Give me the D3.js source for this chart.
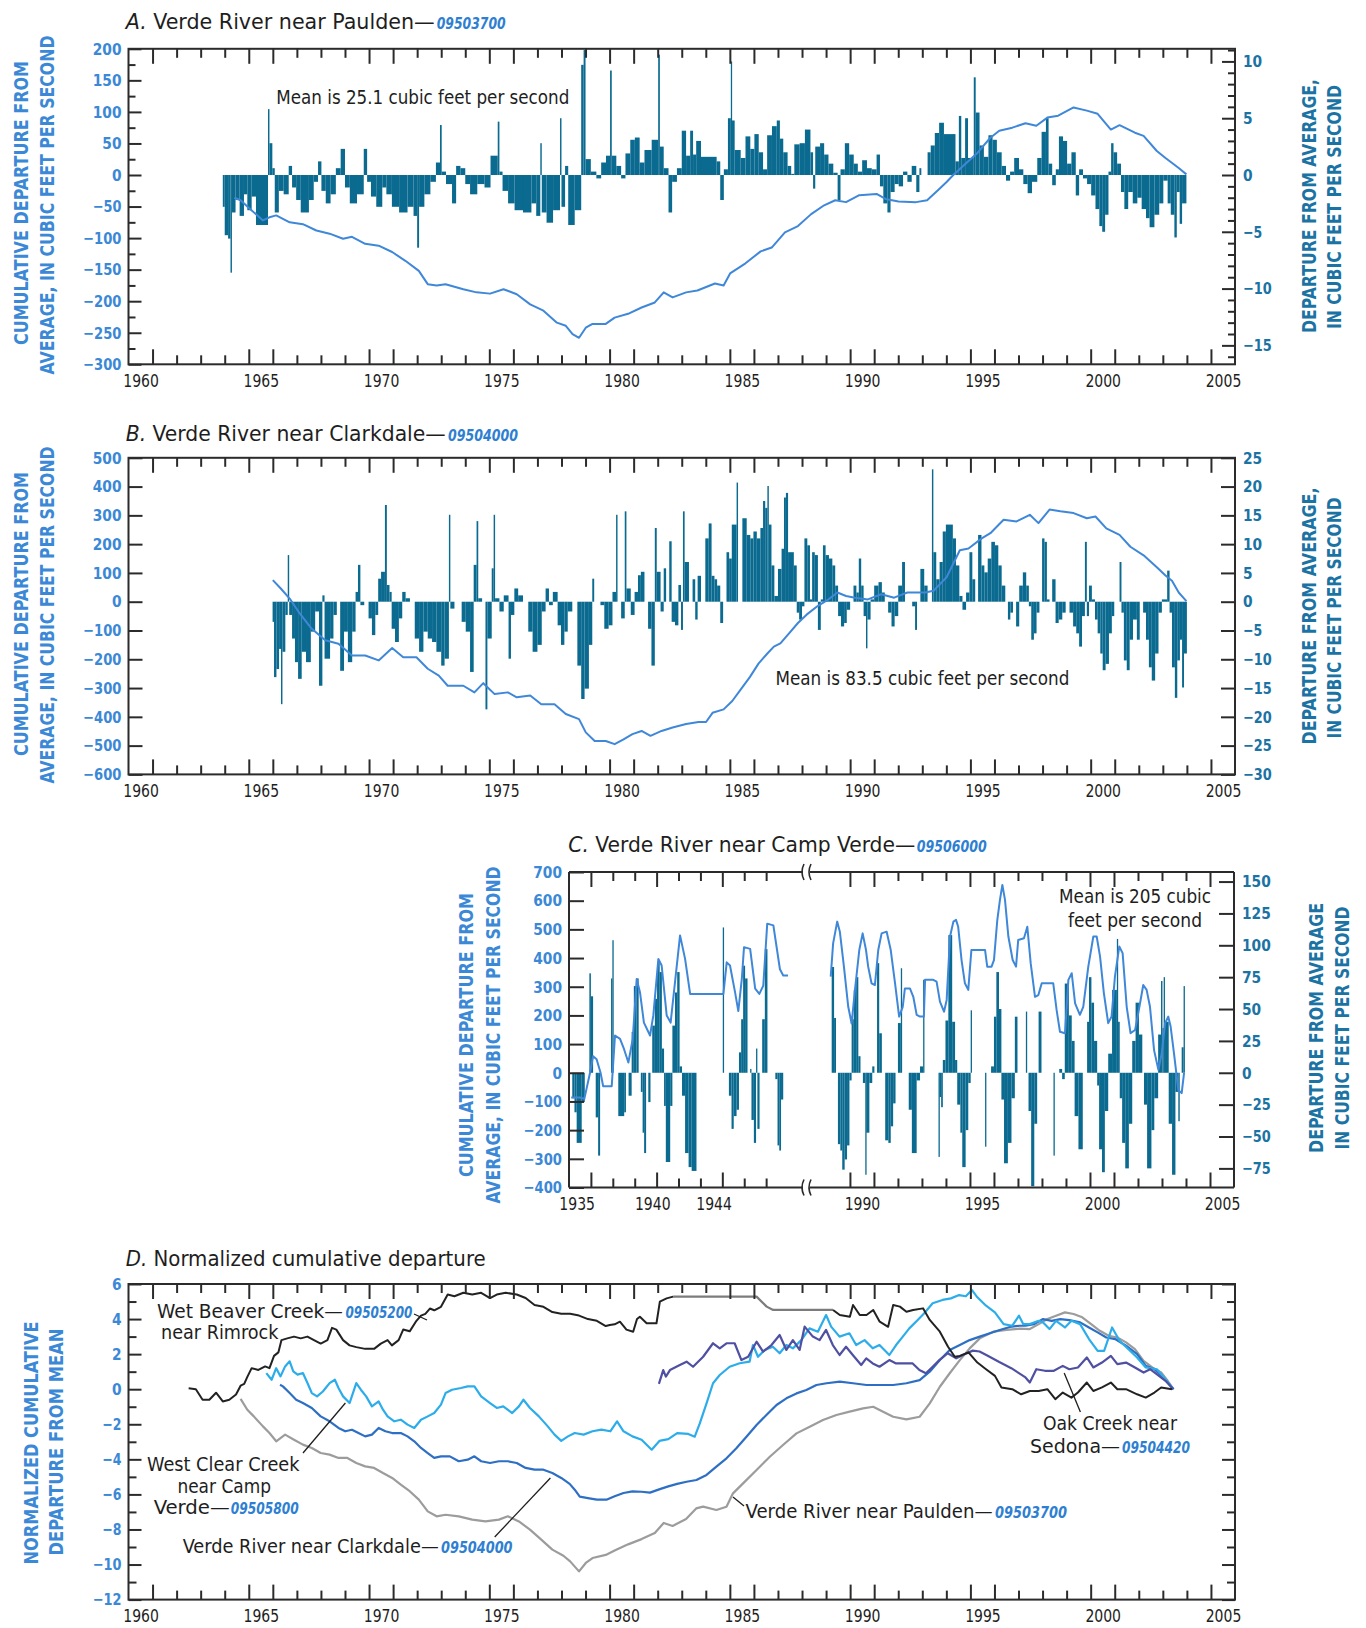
<!DOCTYPE html>
<meta charset="utf-8">
<style>
body { margin: 0; background: #fff; }
text { font-family: "Liberation Sans Narrow", "DejaVu Sans Condensed", "Arial Narrow", sans-serif; }
.ptitle { font-size: 21px; fill: #1e1e1e; }
.stn { font-size: 16px; font-style: italic; font-weight: bold; }
.tkl { font-size: 16.5px; font-weight: bold; }
.tkx { font-size: 18px; }
.atitle { font-size: 19px; font-weight: bold; }
.note { font-size: 20px; fill: #1e1e1e; }
.note2 { font-size: 19px; fill: #1e1e1e; }
</style>
<svg width="1366" height="1628"></svg>
<script src="https://d3js.org/d3.v7.min.js"></script>
<script>
var svg = d3.select("svg");

var frameColor = "#2b2b2b";
var barColor = "#0b6a8f";
var cumColor = "#3f87d8";
var leftColor = "#3b88d6";
var rightColor = "#1b73a4";
var numColor = "#2e7fd2";
var textColor = "#1e1e1e";

// ---------- data ----------
var yearLabels = [1960, 1965, 1970, 1975, 1980, 1985, 1990, 1995, 2000, 2005];
var tickYears = d3.range(1961, 2006);

// A. Verde River near Paulden: departure (cfs), each bar runs to the next entry's year
var barsA = [[1963.92,-2.8],[1964.00,-5.3],[1964.14,-5.6],[1964.24,-8.6],[1964.30,-3.3],[1964.45,-2.2],[1964.62,-3.6],[1964.80,-1.7],[1964.94,-3.1],[1965.12,-1.9],[1965.30,-4.4],[1965.80,5.8],[1965.86,2.8],[1965.98,0.6],[1966.08,-3.3],[1966.25,-1.4],[1966.45,-1.7],[1966.66,0.8],[1966.80,-1.1],[1966.97,-2.2],[1967.16,-3.3],[1967.50,-2.2],[1967.70,-0.6],[1967.88,1.2],[1968.02,-1.4],[1968.20,-2.5],[1968.40,-1.7],[1968.62,0.6],[1968.82,2.3],[1969.00,-1.1],[1969.20,-2.5],[1969.50,-1.7],[1969.78,2.3],[1969.92,-0.6],[1970.08,-1.9],[1970.30,-2.8],[1970.55,-1.1],[1970.72,-1.7],[1970.95,-2.8],[1971.25,-3.3],[1971.60,-2.8],[1971.85,-3.6],[1972.00,-6.4],[1972.08,-2.8],[1972.30,-1.7],[1972.55,-0.6],[1972.78,1.1],[1972.95,4.4],[1973.02,0.3],[1973.20,-0.8],[1973.45,-2.5],[1973.62,0.8],[1973.80,0.6],[1974.00,-0.8],[1974.20,-1.7],[1974.50,-0.8],[1974.80,-1.1],[1975.05,1.7],[1975.35,4.7],[1975.42,0.3],[1975.55,-1.4],[1975.78,-2.5],[1976.05,-3.1],[1976.40,-3.3],[1976.75,-2.5],[1976.95,-3.6],[1977.12,2.8],[1977.18,-3.3],[1977.38,-4.2],[1977.65,-3.1],[1977.94,5.0],[1978.00,-2.8],[1978.15,0.8],[1978.28,-4.4],[1978.55,-3.1],[1978.82,9.7],[1978.92,11.0],[1979.00,1.4],[1979.22,0.3],[1979.45,-0.3],[1979.65,1.1],[1979.85,1.7],[1980.02,9.2],[1980.09,1.7],[1980.28,0.8],[1980.48,-0.3],[1980.66,1.9],[1980.86,3.1],[1981.05,3.3],[1981.25,1.1],[1981.45,2.2],[1981.75,3.1],[1982.02,10.6],[1982.09,2.5],[1982.25,0.6],[1982.45,-3.3],[1982.60,-0.6],[1982.80,0.6],[1983.00,3.9],[1983.18,1.7],[1983.35,3.9],[1983.47,1.8],[1983.60,3.0],[1983.80,1.6],[1984.45,1.2],[1984.60,-2.2],[1984.75,0.5],[1984.92,5.0],[1985.04,10.0],[1985.09,4.8],[1985.20,2.2],[1985.45,1.5],[1985.65,3.4],[1985.85,2.3],[1986.02,3.6],[1986.20,2.0],[1986.38,0.5],[1986.55,3.5],[1986.75,4.3],[1986.95,4.8],[1987.08,3.2],[1987.22,2.0],[1987.40,0.8],[1987.55,0.1],[1987.68,2.7],[1987.90,2.8],[1988.12,4.0],[1988.35,2.0],[1988.46,-1.2],[1988.55,2.5],[1988.75,2.8],[1988.92,1.8],[1989.10,1.0],[1989.30,0.2],[1989.48,-2.2],[1989.60,0.5],[1989.78,2.8],[1989.96,1.8],[1990.15,1.0],[1990.32,0.3],[1990.50,1.3],[1990.70,0.6],[1990.90,0.5],[1991.10,1.8],[1991.24,-1.0],[1991.38,-2.5],[1991.55,-3.3],[1991.68,-1.5],[1991.85,-0.8],[1992.02,-1.0],[1992.20,0.3],[1992.38,-0.6],[1992.56,0.8],[1992.75,-1.5],[1992.88,0.6],[1992.96,0],[1993.22,2.0],[1993.35,2.6],[1993.52,3.7],[1993.70,4.6],[1993.90,3.6],[1994.38,1.2],[1994.52,5.2],[1994.62,1.5],[1994.78,5.0],[1994.90,1.5],[1995.14,8.6],[1995.22,5.5],[1995.38,2.6],[1995.56,1.6],[1995.75,3.5],[1995.92,3.1],[1996.10,2.0],[1996.30,0.8],[1996.48,-0.5],[1996.65,0.3],[1996.82,1.5],[1997.02,0.5],[1997.20,-0.8],[1997.38,-1.6],[1997.56,-0.6],[1997.78,1.5],[1997.96,3.8],[1998.14,5.0],[1998.25,1.0],[1998.40,-0.9],[1998.55,0.5],[1998.68,3.4],[1998.85,3.0],[1999.02,1.0],[1999.20,2.0],[1999.38,-1.8],[1999.52,0.5],[1999.68,-0.3],[1999.85,-0.8],[2000.02,-1.8],[2000.20,-3.0],[2000.36,-4.5],[2000.48,-5.0],[2000.60,-3.5],[2000.74,0.3],[2000.85,2.8],[2000.95,2.0],[2001.10,1.0],[2001.26,-1.5],[2001.40,-3.0],[2001.56,-1.5],[2001.75,-2.5],[2001.94,-2.0],[2002.12,-3.0],[2002.30,-3.8],[2002.45,-4.6],[2002.65,-3.5],[2002.85,-2.5],[2003.02,-0.5],[2003.20,-2.5],[2003.33,-3.5],[2003.48,-5.5],[2003.58,-1.5],[2003.70,-4.3],[2003.80,-2.5],[2003.98,0]];
var cumA = [[1964.4,-36],[1964.66,-40],[1965.03,-53],[1965.59,-72],[1965.86,-67],[1966.14,-64],[1966.70,-75],[1967.25,-78],[1967.81,-88],[1968.36,-93],[1968.92,-101],[1969.29,-98],[1969.84,-109],[1970.40,-112],[1970.96,-122],[1971.51,-136],[1972.07,-152],[1972.44,-173],[1972.81,-175],[1973.18,-173],[1973.92,-181],[1974.47,-186],[1975.03,-188],[1975.59,-181],[1976.14,-189],[1976.70,-205],[1977.25,-215],[1977.81,-234],[1978.18,-239],[1978.46,-252],[1978.73,-258],[1979.01,-242],[1979.29,-236],[1979.84,-236],[1980.21,-226],[1980.77,-220],[1981.33,-210],[1981.88,-202],[1982.25,-186],[1982.62,-194],[1983.18,-186],[1983.65,-183],[1984.38,-172],[1984.74,-175],[1985.01,-156],[1985.65,-140],[1986.28,-121],[1986.74,-115],[1987.29,-91],[1987.83,-81],[1988.38,-62],[1988.92,-48],[1989.38,-40],[1989.83,-43],[1990.38,-32],[1991.10,-30],[1991.47,-38],[1992.01,-42],[1992.74,-43],[1993.20,-40],[1993.65,-24],[1994.01,-11],[1994.29,0],[1994.74,16],[1995.29,35],[1995.83,59],[1996.20,70],[1996.74,75],[1997.29,82],[1997.74,78],[1998.20,91],[1998.65,94],[1999.29,107],[1999.84,102],[2000.29,97],[2000.84,72],[2001.20,79],[2001.84,67],[2002.20,62],[2002.75,38],[2003.11,27],[2003.66,11],[2003.98,1]];

// B. Verde River near Clarkdale
var barsB = [[1965.99,-3.5],[1966.05,-13.1],[1966.15,-11.7],[1966.26,-8.2],[1966.34,-17.8],[1966.40,-8.7],[1966.52,-2.3],[1966.62,8.1],[1966.68,-2.3],[1966.80,-6.4],[1966.92,-10.5],[1967.05,-13.4],[1967.20,-8.7],[1967.38,-10.5],[1967.58,-5.2],[1967.76,-1.7],[1967.92,-14.6],[1968.06,1.1],[1968.15,-9.9],[1968.38,-6.4],[1968.52,-2.3],[1968.66,0],[1968.80,-12.0],[1968.96,-5.2],[1969.12,-10.5],[1969.30,-5.2],[1969.44,1.7],[1969.54,6.4],[1969.64,-0.6],[1969.80,0],[1969.98,-2.9],[1970.12,-5.8],[1970.26,-2.3],[1970.38,4.0],[1970.50,5.2],[1970.66,16.8],[1970.74,2.9],[1970.85,1.7],[1970.94,-4.7],[1971.08,-7.0],[1971.24,-2.9],[1971.38,1.7],[1971.52,0.6],[1971.70,0],[1971.90,-6.4],[1972.08,-8.7],[1972.26,-5.2],[1972.44,-6.4],[1972.62,-7.0],[1972.80,-8.7],[1973.00,-11.1],[1973.14,-9.9],[1973.32,15.1],[1973.38,-1.2],[1973.55,0],[1973.85,-3.5],[1974.02,-5.2],[1974.20,-12.2],[1974.35,6.4],[1974.47,14.0],[1974.54,0.6],[1974.70,0],[1974.84,-18.7],[1974.92,-6.4],[1975.10,5.8],[1975.18,15.1],[1975.24,0.6],[1975.42,-1.7],[1975.60,1.1],[1975.80,-9.9],[1975.90,-2.3],[1976.04,2.3],[1976.20,1.1],[1976.40,0],[1976.62,-5.2],[1976.80,-8.7],[1977.00,-7.5],[1977.18,-1.7],[1977.34,2.3],[1977.48,-0.6],[1977.64,1.7],[1977.84,-4.1],[1977.98,-7.5],[1978.12,-5.2],[1978.26,-1.7],[1978.45,0],[1978.66,-11.1],[1978.82,-16.9],[1978.96,-15.1],[1979.14,-7.5],[1979.28,4.0],[1979.36,0],[1979.62,-0.6],[1979.78,-4.7],[1979.96,-4.1],[1980.12,1.7],[1980.27,15.1],[1980.33,0],[1980.48,-2.9],[1980.63,15.7],[1980.70,2.3],[1980.88,-2.3],[1981.04,1.7],[1981.18,4.6],[1981.30,5.2],[1981.45,0],[1981.60,-4.7],[1981.74,-11.1],[1981.88,12.8],[1981.96,5.2],[1982.12,-1.7],[1982.25,5.8],[1982.35,0],[1982.48,10.5],[1982.58,-3.5],[1982.72,-4.1],[1982.86,2.9],[1982.97,-4.9],[1983.05,15.7],[1983.12,6.9],[1983.30,0],[1983.45,3.9],[1983.56,-3.1],[1983.66,4.5],[1983.80,0],[1983.98,11.0],[1984.12,13.6],[1984.24,4.5],[1984.36,3.9],[1984.47,2.8],[1984.60,-3.7],[1984.72,0],[1984.86,8.6],[1984.97,7.5],[1985.08,13.4],[1985.28,20.7],[1985.34,0],[1985.52,14.5],[1985.70,11.6],[1985.85,11.0],[1985.98,12.2],[1986.12,11.0],[1986.27,12.8],[1986.38,17.5],[1986.47,16.3],[1986.56,20.1],[1986.62,13.4],[1986.73,6.3],[1986.85,1.0],[1987.00,5.7],[1987.15,9.2],[1987.25,18.1],[1987.33,18.9],[1987.42,8.6],[1987.66,6.3],[1987.78,-1.9],[1987.88,-3.1],[1988.00,-0.8],[1988.10,11.0],[1988.22,9.8],[1988.33,0.4],[1988.42,8.6],[1988.53,8.1],[1988.66,-4.9],[1988.78,0.4],[1988.87,9.8],[1988.98,8.1],[1989.12,7.5],[1989.26,6.3],[1989.38,2.8],[1989.50,-2.5],[1989.62,-4.3],[1989.75,-3.7],[1989.86,-1.4],[1990.00,0],[1990.14,2.8],[1990.26,1.6],[1990.36,7.5],[1990.46,2.8],[1990.56,-2.5],[1990.66,-8.1],[1990.72,-3.1],[1990.85,0.4],[1991.00,2.8],[1991.18,3.4],[1991.32,1.6],[1991.44,0],[1991.58,-1.9],[1991.72,-4.3],[1991.85,-2.5],[1992.00,2.8],[1992.16,6.9],[1992.28,0],[1992.58,-0.8],[1992.70,-4.9],[1992.78,0],[1992.92,5.7],[1993.08,2.8],[1993.22,0],[1993.40,23.0],[1993.46,8.6],[1993.58,3.9],[1993.72,6.9],[1993.85,12.2],[1993.98,13.4],[1994.27,11.0],[1994.40,6.3],[1994.54,1.0],[1994.67,-1.4],[1994.82,1.6],[1994.96,8.6],[1995.08,3.9],[1995.20,0],[1995.32,11.6],[1995.46,6.3],[1995.58,5.1],[1995.72,7.5],[1995.87,10.4],[1996.02,9.8],[1996.16,6.3],[1996.30,2.8],[1996.45,0],[1996.56,-3.1],[1996.66,-1.9],[1996.77,0],[1996.90,-4.3],[1997.03,2.8],[1997.18,5.1],[1997.32,2.8],[1997.43,-0.8],[1997.53,-6.6],[1997.64,-5.5],[1997.75,-1.9],[1997.87,0],[1997.98,11.0],[1998.08,10.4],[1998.18,0.4],[1998.29,0],[1998.40,3.9],[1998.54,-3.7],[1998.67,-3.1],[1998.82,-1.9],[1998.96,0],[1999.12,-1.9],[1999.27,-4.3],[1999.40,-5.5],[1999.52,-7.8],[1999.64,-2.5],[1999.76,10.4],[1999.84,-2.5],[1999.93,2.8],[2000.05,0.4],[2000.18,-3.1],[2000.29,-5.5],[2000.40,-9.0],[2000.50,-11.9],[2000.62,-10.8],[2000.76,-5.5],[2000.88,-2.5],[2000.98,0],[2001.20,6.9],[2001.28,-1.9],[2001.38,-10.2],[2001.50,-11.9],[2001.62,-6.6],[2001.76,-3.1],[2001.92,-6.6],[2002.04,0],[2002.18,-1.9],[2002.30,-6.6],[2002.42,-11.4],[2002.54,-13.7],[2002.68,-9.0],[2002.82,-1.9],[2002.96,0.4],[2003.18,5.4],[2003.28,-1.9],[2003.38,-11.4],[2003.50,-16.7],[2003.60,-10.2],[2003.71,-6.6],[2003.80,-14.9],[2003.88,-9.0],[2004.00,0]];
var cumB = [[1966.0,75],[1966.33,46],[1966.70,11],[1967.07,-35],[1967.62,-94],[1968.18,-134],[1968.73,-146],[1969.29,-187],[1969.84,-187],[1970.40,-204],[1970.96,-161],[1971.42,-193],[1971.97,-193],[1972.44,-233],[1972.90,-257],[1973.27,-292],[1973.92,-292],[1974.38,-315],[1974.75,-283],[1975.22,-321],[1975.77,-315],[1976.14,-332],[1976.70,-326],[1977.16,-356],[1977.71,-356],[1978.18,-390],[1978.73,-408],[1979.01,-454],[1979.38,-484],[1979.84,-484],[1980.21,-495],[1980.58,-478],[1980.95,-460],[1981.33,-449],[1981.70,-466],[1982.16,-449],[1982.62,-437],[1983.18,-425],[1983.70,-418],[1984.01,-418],[1984.28,-386],[1984.74,-374],[1985.10,-345],[1985.47,-303],[1985.83,-262],[1986.19,-215],[1986.56,-180],[1986.83,-156],[1987.10,-145],[1987.47,-109],[1987.83,-74],[1988.19,-45],[1988.65,-15],[1989.10,8],[1989.47,32],[1989.83,20],[1990.20,14],[1990.74,8],[1991.29,26],[1991.83,14],[1992.38,32],[1993.11,32],[1993.47,38],[1994.01,85],[1994.56,179],[1994.92,185],[1995.47,220],[1995.83,238],[1996.38,285],[1996.92,279],[1997.47,302],[1997.83,273],[1998.29,320],[1998.74,314],[1999.29,308],[1999.84,290],[2000.20,296],[2000.65,255],[2001.20,232],[2001.65,191],[2002.20,161],[2002.75,120],[2003.11,91],[2003.38,73],[2003.66,32],[2003.98,2]];

// C. Verde River near Camp Verde (left part on the compressed early-record axis)
var barsCEarly = [[1935.15,-20],[1935.25,-31],[1935.35,-55],[1935.58,-23],[1935.72,0],[1935.93,78],[1936.0,60],[1936.1,0],[1936.22,-35],[1936.33,-65],[1936.42,0],[1936.92,74],[1936.98,104],[1937.04,0],[1937.25,-34],[1937.52,-31],[1937.6,0],[1937.72,-18],[1937.86,32],[1937.96,68],[1938.08,74],[1938.18,0],[1938.28,-15],[1938.36,-47],[1938.43,-63],[1938.52,0],[1938.62,-23],[1938.72,0],[1938.8,37],[1938.92,58],[1939.02,87],[1939.14,79],[1939.24,19],[1939.34,-26],[1939.42,-70],[1939.62,-26],[1939.72,37],[1939.84,63],[1939.94,79],[1940.05,5],[1940.16,-18],[1940.3,-63],[1940.46,-74],[1940.6,-77],[1940.82,0],[1942.02,114],[1942.06,0],[1942.3,-18],[1942.42,-44],[1942.52,-34],[1942.65,-29],[1942.76,16],[1942.86,42],[1942.95,84],[1943.04,74],[1943.15,0],[1943.27,3],[1943.33,-37],[1943.44,-55],[1943.54,19],[1943.6,-44],[1943.7,0],[1943.82,42],[1943.94,97],[1944.06,0],[1944.42,-5],[1944.52,-57],[1944.6,-61],[1944.68,-21],[1944.78,0]];
var barsCLate = [[1989.24,83],[1989.34,43],[1989.42,0],[1989.5,-56],[1989.6,-61],[1989.68,-76],[1989.78,-68],[1989.88,-57],[1989.98,-6],[1990.07,42],[1990.16,65],[1990.26,75],[1990.35,13],[1990.44,0],[1990.54,-8],[1990.64,-80],[1990.68,-47],[1990.81,-8],[1990.93,5],[1991.02,0],[1991.13,86],[1991.22,31],[1991.33,0],[1991.47,-53],[1991.6,-55],[1991.7,-42],[1991.8,-24],[1991.9,0],[1992.0,39],[1992.12,82],[1992.17,0],[1992.45,-29],[1992.58,-63],[1992.78,-6],[1992.92,5],[1993.05,73],[1993.09,0],[1993.69,-66],[1993.73,-19],[1993.8,-27],[1993.87,10],[1993.98,41],[1994.1,108],[1994.26,40],[1994.38,10],[1994.47,-25],[1994.6,-47],[1994.68,-74],[1994.82,-45],[1994.93,-8],[1995.03,49],[1995.08,0],[1995.63,-58],[1995.67,0],[1995.88,5],[1996.0,44],[1996.1,79],[1996.21,50],[1996.31,-21],[1996.42,-71],[1996.58,-55],[1996.73,-20],[1996.87,44],[1996.98,0],[1997.33,48],[1997.37,0],[1997.44,-30],[1997.55,-89],[1997.68,-40],[1997.8,0],[1997.86,48],[1997.98,0],[1998.48,-65],[1998.53,0],[1998.72,3],[1998.84,-5],[1998.95,70],[1999.12,45],[1999.24,25],[1999.36,-34],[1999.52,-60],[1999.7,0],[1999.88,40],[1999.96,75],[2000.06,55],[2000.17,25],[2000.3,-10],[2000.38,-60],[2000.5,-78],[2000.62,-30],[2000.76,15],[2000.92,65],[2001.12,105],[2001.17,40],[2001.24,-20],[2001.34,-55],[2001.47,-75],[2001.62,-40],[2001.76,25],[2001.9,55],[2002.04,30],[2002.18,0],[2002.25,-25],[2002.38,-75],[2002.56,-45],[2002.68,-20],[2002.84,30],[2002.96,72],[2003.02,35],[2003.07,75],[2003.12,40],[2003.28,-40],[2003.42,-80],[2003.56,-15],[2003.68,-38],[2003.74,0],[2003.82,20],[2003.9,68],[2003.95,0]];
var cumCEarly = [[1935.1,-86],[1935.5,-86],[1935.7,-91],[1935.96,0],[1936.1,58],[1936.26,47],[1936.44,0],[1936.56,-47],[1936.95,-47],[1937.1,130],[1937.33,118],[1937.51,83],[1937.71,36],[1937.91,118],[1938.09,327],[1938.24,281],[1938.42,175],[1938.7,130],[1938.85,200],[1939.08,397],[1939.23,374],[1939.46,200],[1939.64,175],[1939.84,316],[1940.07,479],[1940.3,397],[1940.53,275],[1942.05,275],[1942.2,385],[1942.35,374],[1942.58,281],[1942.73,215],[1942.89,327],[1942.99,438],[1943.27,432],[1943.5,293],[1943.69,275],[1943.87,304],[1944.05,520],[1944.33,514],[1944.63,361],[1944.78,339],[1945.0,339]];
var cumCLate = [[1989.2,335],[1989.3,451],[1989.47,527],[1989.58,492],[1989.75,370],[1989.93,230],[1990.07,172],[1990.21,289],[1990.39,428],[1990.53,486],[1990.67,428],[1990.76,370],[1990.9,312],[1991.04,306],[1991.18,428],[1991.32,486],[1991.53,492],[1991.7,428],[1991.88,312],[1992.05,196],[1992.2,230],[1992.29,294],[1992.5,294],[1992.64,265],[1992.78,202],[1992.92,196],[1993.08,196],[1993.13,324],[1993.47,324],[1993.61,318],[1993.75,248],[1993.92,213],[1994.03,254],[1994.17,475],[1994.31,527],[1994.42,533],[1994.51,509],[1994.65,393],[1994.79,312],[1994.93,289],[1995.06,428],[1995.63,428],[1995.72,370],[1995.9,370],[1996.0,393],[1996.14,533],[1996.25,603],[1996.35,655],[1996.46,603],[1996.6,475],[1996.78,393],[1996.92,370],[1997.01,463],[1997.25,469],[1997.39,509],[1997.53,382],[1997.71,265],[1997.85,271],[1997.99,312],[1998.47,312],[1998.61,219],[1998.75,143],[1998.96,138],[1999.1,324],[1999.24,347],[1999.38,242],[1999.58,202],[1999.72,230],[1999.93,370],[2000.14,475],[2000.28,475],[2000.42,405],[2000.58,277],[2000.76,173],[2000.9,196],[2001.04,335],[2001.22,440],[2001.36,417],[2001.53,230],[2001.69,138],[2001.88,149],[2002.06,230],[2002.22,306],[2002.36,289],[2002.5,230],[2002.67,79],[2002.85,10],[2002.99,68],[2003.13,173],[2003.26,196],[2003.36,161],[2003.5,68],[2003.68,-60],[2003.82,-71],[2003.92,0]];
var cTickLong = [1936, 1939, 1942, 1990, 1991, 1995, 1996, 2000, 2001, 2005];
var cTickShort = [1937, 1938, 1940, 1941, 1943, 1944, 1992, 1993, 1994, 1997, 1998, 1999, 2002, 2003, 2004];
var cLabelText = ["1935", "1940", "1944", "1990", "1995", "2000", "2005"];
var cLabelAt = [1935.35, 1938.8, 1941.6, 1990.5, 1995.5, 2000.5, 2005.5];

// D. Normalized cumulative departure
var wetBeaverEarly = [[1962.5,0.05],[1962.8,0],[1963.08,-0.6],[1963.36,-0.6],[1963.64,-0.2],[1963.92,-0.7],[1964.19,-0.6],[1964.47,-0.3],[1964.66,0.2],[1964.81,0.3],[1964.94,0.7],[1965.12,1.2],[1965.4,1.1],[1965.68,1.3],[1965.86,1.2],[1966.05,1.9],[1966.23,2.1],[1966.36,2.8],[1966.6,2.9],[1966.88,3.0],[1967.16,2.9],[1967.44,3.0],[1967.71,2.8],[1967.99,2.6],[1968.27,2.8],[1968.46,3.5],[1968.64,3.4],[1968.92,2.8],[1969.19,2.5],[1969.47,2.4],[1969.84,2.3],[1970.21,2.3],[1970.49,2.6],[1970.77,2.8],[1970.95,2.5],[1971.23,2.8],[1971.42,3.4],[1971.69,3.3],[1971.97,3.9],[1972.16,4.2],[1972.34,4.3],[1972.53,4.6],[1972.71,4.5],[1972.99,4.7],[1973.27,5.4],[1973.55,5.3],[1973.92,5.5],[1974.29,5.4],[1974.66,5.5],[1975.03,5.2],[1975.31,5.4],[1975.68,5.5],[1976.14,5.4],[1976.51,5.2],[1976.88,4.8],[1977.25,4.7],[1977.62,4.4],[1977.99,4.3],[1978.36,4.3],[1978.73,4.2],[1979.1,4.0],[1979.47,3.9],[1979.84,3.6],[1980.01,3.66],[1980.21,3.7],[1980.43,3.85],[1980.7,3.4],[1980.98,3.28],[1981.14,4.0],[1981.26,4.13],[1981.54,3.76],[1981.95,3.76],[1982.09,4.99],[1982.37,5.18],[1982.64,5.28]];
var wetBeaverFlat = [[1982.64,5.28],[1986.11,5.28],[1986.53,4.71],[1986.8,4.52],[1989.29,4.52]];
var wetBeaverLate = [[1989.29,4.52],[1989.57,4.23],[1989.99,4.13],[1990.12,4.8],[1990.4,4.23],[1990.68,4.23],[1990.96,4.52],[1991.23,3.85],[1991.58,3.56],[1991.79,4.8],[1992.07,4.71],[1992.34,4.42],[1992.62,4.52],[1993.03,4.61],[1993.31,3.95],[1993.73,3.28],[1994.07,2.42],[1994.35,1.85],[1994.56,1.9],[1994.92,2.1],[1995.29,1.52],[1995.65,1.14],[1996.02,0.76],[1996.29,0.1],[1996.74,0],[1997.11,-0.29],[1997.47,-0.1],[1997.84,-0.1],[1998.2,0],[1998.53,-0.57],[1998.84,-0.19],[1999.2,-0.48],[1999.47,-0.19],[1999.84,0.38],[2000.11,-0.1],[2000.47,0.1],[2000.84,0.38],[2001.11,0],[2001.47,0],[2001.93,-0.29],[2002.29,-0.48],[2002.65,-0.19],[2002.93,0.1],[2003.38,0]];
var westClear = [[1965.73,0.92],[1965.95,0.54],[1966.14,1.2],[1966.32,0.73],[1966.51,1.3],[1966.7,1.59],[1966.85,1.02],[1967.03,0.83],[1967.25,0.92],[1967.44,0.35],[1967.62,-0.22],[1967.84,-0.41],[1968.08,-0.13],[1968.36,0.35],[1968.58,0.54],[1968.73,0.07],[1968.92,-0.41],[1969.19,-0.79],[1969.47,0.35],[1969.66,-0.03],[1969.88,-0.41],[1970.12,-0.98],[1970.4,-0.7],[1970.58,-1.17],[1970.77,-1.55],[1971.05,-1.83],[1971.32,-1.74],[1971.6,-2.02],[1971.88,-2.21],[1972.16,-1.74],[1972.44,-1.55],[1972.71,-1.36],[1972.99,-0.88],[1973.18,-0.22],[1973.45,-0.03],[1973.82,0.07],[1974.1,0.16],[1974.38,0.16],[1974.66,-0.41],[1975.03,-0.79],[1975.31,-1.07],[1975.58,-0.98],[1975.95,-1.36],[1976.23,-0.98],[1976.42,-0.6],[1976.69,-1.07],[1977.06,-1.55],[1977.43,-2.12],[1977.71,-2.59],[1977.99,-2.95],[1978.27,-2.69],[1978.55,-2.5],[1978.92,-2.59],[1979.29,-2.4],[1979.66,-2.31],[1980.03,-2.4],[1980.31,-1.83],[1980.58,-2.4],[1980.95,-2.69],[1981.33,-2.88],[1981.75,-3.45],[1982.07,-2.95],[1982.44,-2.85],[1982.81,-2.5],[1983.27,-2.55],[1983.54,-2.71],[1983.75,-1.95],[1984.03,-0.81],[1984.3,0.34],[1984.58,0.81],[1984.99,1.28],[1985.41,1.48],[1985.82,1.57],[1985.96,2.52],[1986.17,1.85],[1986.45,2.24],[1986.79,2.42],[1987.07,2.05],[1987.35,2.52],[1987.62,2.33],[1987.97,2.8],[1988.31,3.47],[1988.66,3.28],[1989.0,4.23],[1989.21,3.57],[1989.56,3.0],[1989.97,3.19],[1990.25,2.52],[1990.6,2.8],[1990.94,2.33],[1991.22,2.52],[1991.63,1.95],[1991.91,2.52],[1992.19,3.0],[1992.46,3.47],[1992.81,3.95],[1993.08,4.33],[1993.43,4.9],[1993.84,5.09],[1994.19,5.18],[1994.53,5.37],[1994.81,5.3],[1995.06,5.66],[1995.29,5.24],[1995.65,4.76],[1996.02,4.38],[1996.38,3.71],[1996.74,3.62],[1997.02,4.19],[1997.2,3.71],[1997.47,3.71],[1997.84,3.9],[1998.02,3.81],[1998.29,3.43],[1998.56,3.9],[1998.93,3.52],[1999.2,3.9],[1999.56,3.71],[1999.93,2.86],[2000.29,2.19],[2000.56,2.19],[2000.89,3.52],[2001.2,2.76],[2001.56,2.29],[2001.93,1.81],[2002.29,1.24],[2002.75,1.14],[2003.11,0.57],[2003.44,0]];
var clarkdale = [[1966.3,0.25],[1966.42,0.16],[1966.7,-0.22],[1966.97,-0.6],[1967.25,-0.79],[1967.62,-1.07],[1967.99,-1.55],[1968.36,-1.83],[1968.73,-2.21],[1969.01,-2.4],[1969.29,-2.31],[1969.56,-2.5],[1969.84,-2.69],[1970.12,-2.59],[1970.4,-2.21],[1970.68,-2.4],[1970.96,-2.5],[1971.32,-2.5],[1971.6,-2.69],[1971.88,-2.97],[1972.16,-3.35],[1972.44,-3.64],[1972.71,-3.92],[1972.99,-3.83],[1973.36,-3.83],[1973.73,-4.11],[1974.1,-4.02],[1974.38,-3.83],[1974.66,-4.11],[1975.03,-4.21],[1975.4,-4.11],[1975.77,-4.11],[1976.14,-4.21],[1976.51,-4.49],[1976.88,-4.59],[1977.25,-4.59],[1977.62,-4.78],[1977.99,-5.06],[1978.34,-5.4],[1978.55,-5.73],[1978.76,-6.13],[1979.1,-6.21],[1979.47,-6.3],[1979.87,-6.3],[1980.21,-6.11],[1980.58,-5.92],[1980.95,-5.83],[1981.33,-5.85],[1981.68,-5.9],[1982.09,-5.7],[1982.44,-5.54],[1982.81,-5.4],[1983.2,-5.28],[1983.61,-5.18],[1984.03,-4.89],[1984.44,-4.42],[1984.86,-3.94],[1985.27,-3.37],[1985.69,-2.71],[1986.11,-2.04],[1986.52,-1.47],[1986.94,-0.9],[1987.35,-0.52],[1987.77,-0.24],[1988.18,-0.05],[1988.6,0.24],[1989.02,0.34],[1989.57,0.43],[1990.12,0.34],[1990.68,0.24],[1991.23,0.24],[1991.79,0.24],[1992.34,0.34],[1992.89,0.52],[1993.31,1.0],[1993.73,1.66],[1994.14,2.24],[1994.56,2.52],[1994.97,2.8],[1995.39,3.0],[1995.81,3.19],[1996.22,3.38],[1996.64,3.55],[1997.05,3.62],[1997.29,3.62],[1997.65,3.71],[1998.02,4.0],[1998.38,3.9],[1998.74,4.0],[1999.11,3.94],[1999.56,3.81],[1999.93,3.52],[2000.29,3.24],[2000.65,2.95],[2001.02,2.86],[2001.47,2.48],[2001.93,2.0],[2002.29,1.33],[2002.65,1.14],[2003.02,0.67],[2003.44,0]];
var paulden = [[1964.66,-0.55],[1964.94,-1.17],[1965.21,-1.55],[1965.59,-2.12],[1965.86,-2.5],[1966.14,-2.97],[1966.51,-2.59],[1966.88,-2.88],[1967.25,-3.16],[1967.62,-3.35],[1967.99,-3.64],[1968.36,-3.73],[1968.73,-3.92],[1969.1,-3.92],[1969.47,-4.21],[1969.84,-4.4],[1970.21,-4.49],[1970.58,-4.78],[1970.96,-5.06],[1971.32,-5.44],[1971.69,-5.82],[1972.07,-6.3],[1972.44,-6.97],[1972.81,-7.25],[1973.18,-7.16],[1973.73,-7.25],[1974.29,-7.44],[1974.84,-7.54],[1975.4,-7.44],[1975.77,-7.25],[1976.23,-7.54],[1976.69,-8.01],[1977.16,-8.58],[1977.62,-9.15],[1978.08,-9.5],[1978.36,-9.82],[1978.73,-10.39],[1979.01,-9.91],[1979.29,-9.63],[1979.84,-9.45],[1980.21,-9.2],[1980.77,-8.85],[1981.33,-8.55],[1981.88,-8.2],[1982.25,-7.63],[1982.62,-7.8],[1983.18,-7.4],[1983.6,-6.8],[1983.89,-6.7],[1984.44,-6.89],[1984.86,-6.7],[1985.13,-5.94],[1985.55,-5.37],[1986.11,-4.61],[1986.66,-3.85],[1987.21,-3.18],[1987.77,-2.52],[1988.32,-2.14],[1988.87,-1.76],[1989.43,-1.47],[1989.98,-1.28],[1990.54,-1.09],[1990.96,-1.0],[1991.37,-1.28],[1991.79,-1.57],[1992.34,-1.72],[1992.89,-1.57],[1993.31,-0.81],[1993.73,0.14],[1994.14,0.91],[1994.56,1.66],[1994.97,2.33],[1995.39,2.9],[1995.95,3.28],[1996.5,3.38],[1997.05,3.45],[1997.47,3.43],[1997.84,3.71],[1998.2,4.0],[1998.56,4.19],[1998.93,4.38],[1999.29,4.29],[1999.65,4.1],[2000.02,3.71],[2000.38,3.33],[2000.75,3.05],[2001.11,2.95],[2001.47,2.67],[2001.84,2.29],[2002.2,1.62],[2002.56,1.24],[2002.93,0.95],[2003.2,0.48],[2003.44,0]];
var oakCreek = [[1982.05,0.3],[1982.23,1.09],[1982.34,0.72],[1982.51,1.09],[1982.92,1.38],[1983.2,1.57],[1983.47,1.28],[1983.89,1.85],[1984.3,2.62],[1984.58,2.33],[1984.86,2.62],[1985.2,2.62],[1985.48,1.66],[1985.76,1.85],[1986.11,2.71],[1986.38,2.14],[1986.73,2.52],[1987.07,3.09],[1987.35,2.24],[1987.62,2.8],[1987.9,2.24],[1988.11,3.57],[1988.45,3.0],[1988.73,2.8],[1989.0,3.38],[1989.28,2.52],[1989.56,1.95],[1989.83,2.42],[1990.11,1.95],[1990.46,1.38],[1990.67,1.76],[1990.94,1.47],[1991.22,1.28],[1991.63,1.66],[1991.91,1.47],[1992.32,1.47],[1992.6,1.47],[1992.88,1.09],[1993.15,0.91],[1993.43,1.28],[1993.71,1.66],[1994.06,2.05],[1994.41,1.76],[1994.69,1.95],[1995.1,2.2],[1995.38,2.15],[1995.7,1.92],[1996.2,1.55],[1996.7,1.2],[1997.29,0.67],[1997.47,0.38],[1997.74,1.14],[1998.1,1.05],[1998.47,1.05],[1998.84,1.33],[1999.11,1.14],[1999.47,1.24],[1999.84,1.81],[2000.11,1.24],[2000.47,1.52],[2000.84,1.9],[2001.11,1.43],[2001.47,1.52],[2001.84,1.24],[2002.2,0.95],[2002.47,1.14],[2002.84,0.76],[2003.11,0.48],[2003.44,0]];

// ---------- scales ----------
var x = d3.scaleLinear().domain([1960, 2006]).range([128.5, 1235]);
var xC = d3.scaleLinear().domain([1935, 1945.82, 1988.42, 2006]).range([569, 806, 812, 1234]);

var yA = d3.scaleLinear().domain([-300, 200]).range([364.3, 48.8]);
var yAr = d3.scaleLinear().domain([-300 / 18, 200 / 18]).range([364.3, 48.8]);
var yB = d3.scaleLinear().domain([-600, 500]).range([774.4, 457.8]);
var yBr = d3.scaleLinear().domain([-30, 25]).range([774.4, 457.8]);
var yC = d3.scaleLinear().domain([-400, 700]).range([1187.5, 872]);
var yCr = d3.scaleLinear().domain([-90, 157.5]).range([1187.5, 872]);
var yD = d3.scaleLinear().domain([-12, 6]).range([1599.6, 1284]);

// ---------- helpers ----------
function tickAxis(axis, transform) {
	var g = svg.append("g").attr("transform", transform).call(axis.tickFormat(""));
	g.select(".domain").remove();
	g.selectAll("line").attr("stroke", frameColor).attr("stroke-width", 2);
	return g;
}

// tick labels; squeezed to the condensed width of the original lettering
function labelAxis(axis, transform, cls, color, charW) {
	var g = svg.append("g").attr("transform", transform).call(axis.tickSize(0));
	g.select(".domain").remove();
	g.selectAll("line").remove();
	g.attr("font-size", null).attr("font-family", null);
	g.selectAll("text").attr("class", cls).attr("fill", color)
		.attr("textLength", function() { return this.textContent.length * charW; })
		.attr("lengthAdjust", "spacingAndGlyphs");
	return g;
}

function drawBars(data, xs, ys) {
	svg.append("g").selectAll("rect")
		.data(d3.pairs(data).filter(function(p) { return p[0][1] !== 0; }))
		.join("rect")
		.attr("x", function(p) { return xs(p[0][0]); })
		.attr("width", function(p) { return Math.max(1.3, xs(p[1][0]) - xs(p[0][0])); })
		.attr("y", function(p) { return Math.min(ys(p[0][1]), ys(0)); })
		.attr("height", function(p) { return Math.abs(ys(p[0][1]) - ys(0)); })
		.attr("fill", barColor);
}

function drawLine(data, xs, ys, color, width) {
	svg.append("path")
		.datum(data)
		.attr("fill", "none")
		.attr("stroke", color)
		.attr("stroke-width", width)
		.attr("stroke-linejoin", "round")
		.attr("d", d3.line().x(function(d) { return xs(d[0]); }).y(function(d) { return ys(d[1]); }));
}

function yearAxes(xs, top, bottom) {
	var longY = tickYears.filter(function(y) { return y % 5 === 0 || y % 5 === 1; });
	var shortY = tickYears.filter(function(y) { return !(y % 5 === 0 || y % 5 === 1); });
	tickAxis(d3.axisBottom(xs).tickValues(longY).tickSize(-15), "translate(0," + bottom + ")");
	tickAxis(d3.axisBottom(xs).tickValues(shortY).tickSize(-9), "translate(0," + bottom + ")");
	tickAxis(d3.axisTop(xs).tickValues(longY).tickSize(-15), "translate(0," + top + ")");
	tickAxis(d3.axisTop(xs).tickValues(shortY).tickSize(-9), "translate(0," + top + ")");
	labelAxis(d3.axisBottom(xs).tickValues(yearLabels.map(function(y) { return y + 0.5; }))
		.tickPadding(10).tickFormat(function(d) { return String(Math.floor(d)); }),
		"translate(0," + bottom + ")", "tkx", textColor, 8.9);
}

function frame(x0, y0, x1, y1) {
	svg.append("rect").attr("x", x0).attr("y", y0).attr("width", x1 - x0).attr("height", y1 - y0)
		.attr("fill", "none").attr("stroke", frameColor).attr("stroke-width", 2);
}

function vTitle(txt, cx, cy, len, color) {
	svg.append("text").attr("class", "atitle")
		.attr("transform", "translate(" + cx + "," + cy + ") rotate(-90)")
		.attr("text-anchor", "middle").attr("dominant-baseline", "central")
		.attr("textLength", len).attr("lengthAdjust", "spacingAndGlyphs")
		.attr("fill", color).text(txt);
}

function note(txt, x0, y0, len, cls, color) {
	var t = svg.append("text").attr("class", cls).attr("x", x0).attr("y", y0)
		.attr("textLength", len).attr("lengthAdjust", "spacingAndGlyphs").text(txt);
	if (color) t.attr("fill", color);
	return t;
}

function panelTitle(letter, rest, x0, y0, len, num, nx, nlen) {
	var t = svg.append("text").attr("class", "ptitle").attr("x", x0).attr("y", y0)
		.attr("textLength", len).attr("lengthAdjust", "spacingAndGlyphs");
	t.append("tspan").attr("font-style", "italic").text(letter);
	t.append("tspan").text(rest);
	if (num) note(num, nx, y0, nlen, "stn", numColor);
}

function leader(x1, y1, x2, y2) {
	svg.append("line").attr("x1", x1).attr("y1", y1).attr("x2", x2).attr("y2", y2)
		.attr("stroke", textColor).attr("stroke-width", 1.3);
}

var fmt = d3.format("d");

// ---------- panel A ----------
drawBars(barsA, x, yAr);
drawLine(cumA, x, yA, cumColor, 2);
frame(128.5, 48.8, 1235, 364.3);
yearAxes(x, 48.8, 364.3);
tickAxis(d3.axisLeft(yA).tickValues(d3.range(-300, 201, 50)).tickSize(-13), "translate(128.5,0)");
tickAxis(d3.axisLeft(yA).tickValues(d3.range(-275, 200, 50)).tickSize(-7), "translate(128.5,0)");
tickAxis(d3.axisRight(yAr).tickValues([-15, -10, -5, 0, 5, 10]).tickSize(-13), "translate(1235,0)");
tickAxis(d3.axisRight(yAr).tickValues(d3.range(-16, 12).filter(function(v) { return v % 5 !== 0; })).tickSize(-7), "translate(1235,0)");
labelAxis(d3.axisLeft(yA).tickValues(d3.range(-300, 201, 50)).tickPadding(7).tickFormat(fmt), "translate(128.5,0)", "tkl", leftColor, 9.6);
labelAxis(d3.axisRight(yAr).tickValues([-15, -10, -5, 0, 5, 10]).tickPadding(8).tickFormat(fmt), "translate(1235,0)", "tkl", rightColor, 9.6);
panelTitle("A.", " Verde River near Paulden\u2014", 125.7, 29, 309, "09503700", 436.7, 69);
note("Mean is 25.1 cubic feet per second", 276.3, 104, 293, "note");
vTitle("CUMULATIVE DEPARTURE FROM", 21, 203, 284, leftColor);
vTitle("AVERAGE, IN CUBIC FEET PER SECOND", 47, 205, 339, leftColor);
vTitle("DEPARTURE FROM AVERAGE,", 1309, 206, 254, rightColor);
vTitle("IN CUBIC FEET PER SECOND", 1334, 207, 244, rightColor);

// ---------- panel B ----------
drawBars(barsB, x, yBr);
drawLine(cumB, x, yB, cumColor, 2);
frame(128.5, 457.8, 1235, 774.4);
yearAxes(x, 457.8, 774.4);
tickAxis(d3.axisLeft(yB).tickValues(d3.range(-600, 501, 100)).tickSize(-14), "translate(128.5,0)");
tickAxis(d3.axisRight(yBr).tickValues(d3.range(-30, 26, 5)).tickSize(-14), "translate(1235,0)");
labelAxis(d3.axisLeft(yB).tickValues(d3.range(-600, 501, 100)).tickPadding(7).tickFormat(fmt), "translate(128.5,0)", "tkl", leftColor, 9.6);
labelAxis(d3.axisRight(yBr).tickValues(d3.range(-30, 26, 5)).tickPadding(8).tickFormat(fmt), "translate(1235,0)", "tkl", rightColor, 9.6);
panelTitle("B.", " Verde River near Clarkdale\u2014", 125.7, 441, 320, "09504000", 447.9, 70);
note("Mean is 83.5 cubic feet per second", 775.4, 685, 294, "note");
vTitle("CUMULATIVE DEPARTURE FROM", 21, 614, 284, leftColor);
vTitle("AVERAGE, IN CUBIC FEET PER SECOND", 47, 615, 337, leftColor);
vTitle("DEPARTURE FROM AVERAGE,", 1309, 616, 257, rightColor);
vTitle("IN CUBIC FEET PER SECOND", 1334, 618, 241, rightColor);

// ---------- panel C ----------
drawBars(barsCEarly, xC, yCr);
drawBars(barsCLate, xC, yCr);
drawLine(cumCEarly, xC, yC, cumColor, 2);
drawLine(cumCLate, xC, yC, cumColor, 2);
[[569, 803], [810, 1234]].forEach(function(seg) {
	[872, 1187.5].forEach(function(yy) {
		svg.append("line").attr("x1", seg[0]).attr("x2", seg[1]).attr("y1", yy).attr("y2", yy)
			.attr("stroke", frameColor).attr("stroke-width", 2);
	});
});
[569, 1234].forEach(function(xx) {
	svg.append("line").attr("x1", xx).attr("x2", xx).attr("y1", 872).attr("y2", 1187.5)
		.attr("stroke", frameColor).attr("stroke-width", 2);
});
[803, 810].forEach(function(xx) {
	[872, 1187.5].forEach(function(yy) {
		svg.append("path").attr("d", "M" + (xx + 1) + "," + (yy - 8) + " q-4,8 0,16")
			.attr("fill", "none").attr("stroke", frameColor).attr("stroke-width", 1.6);
	});
});
tickAxis(d3.axisBottom(xC).tickValues(cTickLong).tickSize(-15), "translate(0,1187.5)");
tickAxis(d3.axisBottom(xC).tickValues(cTickShort).tickSize(-9), "translate(0,1187.5)");
tickAxis(d3.axisTop(xC).tickValues(cTickLong).tickSize(-15), "translate(0,872)");
tickAxis(d3.axisTop(xC).tickValues(cTickShort).tickSize(-9), "translate(0,872)");
labelAxis(d3.axisBottom(xC).tickValues(cLabelAt).tickPadding(10)
	.tickFormat(function(d, i) { return cLabelText[i]; }), "translate(0,1187.5)", "tkx", textColor, 8.9);
tickAxis(d3.axisLeft(yC).tickValues(d3.range(-400, 701, 100)).tickSize(-15), "translate(569,0)");
tickAxis(d3.axisRight(yCr).tickValues(d3.range(-75, 151, 25)).tickSize(-15), "translate(1234,0)");
labelAxis(d3.axisLeft(yC).tickValues(d3.range(-400, 701, 100)).tickPadding(7).tickFormat(fmt), "translate(569,0)", "tkl", leftColor, 9.6);
labelAxis(d3.axisRight(yCr).tickValues(d3.range(-75, 151, 25)).tickPadding(8).tickFormat(fmt), "translate(1234,0)", "tkl", rightColor, 9.6);
panelTitle("C.", " Verde River near Camp Verde\u2014", 568.3, 852, 347, "09506000", 916.7, 70);
note("Mean is 205 cubic", 1059, 903, 152, "note");
note("feet per second", 1068, 927, 134, "note");
vTitle("CUMULATIVE DEPARTURE FROM", 466, 1035, 284, leftColor);
vTitle("AVERAGE, IN CUBIC FEET PER SECOND", 492.5, 1035, 337, leftColor);
vTitle("DEPARTURE FROM AVERAGE", 1316, 1028, 250, rightColor);
vTitle("IN CUBIC FEET PER SECOND", 1341.5, 1028, 243, rightColor);

// ---------- panel D ----------
drawLine(paulden, x, yD, "#9c9c9c", 2.2);
drawLine(clarkdale, x, yD, "#2d6fc4", 2.2);
drawLine(westClear, x, yD, "#2cadea", 2.2);
drawLine(oakCreek, x, yD, "#4f50a2", 2.2);
drawLine(wetBeaverFlat, x, yD, "#7c7c7c", 2.2);
drawLine(wetBeaverEarly, x, yD, "#222", 2);
drawLine(wetBeaverLate, x, yD, "#222", 2);
frame(128.5, 1284, 1235, 1599.6);
yearAxes(x, 1284, 1599.6);
tickAxis(d3.axisLeft(yD).tickValues(d3.range(-12, 7, 2)).tickSize(-13), "translate(128.5,0)");
tickAxis(d3.axisLeft(yD).tickValues(d3.range(-11, 6, 2)).tickSize(-8), "translate(128.5,0)");
tickAxis(d3.axisRight(yD).tickValues(d3.range(-12, 7, 2)).tickSize(-13), "translate(1235,0)");
tickAxis(d3.axisRight(yD).tickValues(d3.range(-11, 6, 2)).tickSize(-8), "translate(1235,0)");
labelAxis(d3.axisLeft(yD).tickValues(d3.range(-12, 7, 2)).tickPadding(7).tickFormat(fmt), "translate(128.5,0)", "tkl", leftColor, 9.6);
panelTitle("D.", " Normalized cumulative departure", 125.7, 1266, 360);
vTitle("NORMALIZED CUMULATIVE", 31, 1443, 243, leftColor);
vTitle("DEPARTURE FROM MEAN", 56, 1442, 227, leftColor);

note("Wet Beaver Creek\u2014", 157, 1318, 186, "note");
note("09505200", 345.4, 1318, 67, "stn", numColor);
note("near Rimrock", 161, 1339, 117.5, "note");
leader(414, 1314, 427, 1320);
note("West Clear Creek", 147, 1471, 152.5, "note");
note("near Camp", 177.4, 1492.5, 93.6, "note");
note("Verde\u2014", 153.7, 1513.5, 76, "note");
note("09505800", 230.8, 1513.5, 68, "stn", numColor);
leader(303, 1453, 345.4, 1403);
note("Verde River near Clarkdale\u2014", 182.7, 1552.5, 256, "note");
note("09504000", 441, 1552.5, 71.5, "stn", numColor);
leader(494.7, 1537, 550.4, 1478);
note("Verde River near Paulden\u2014", 745.6, 1517.5, 247, "note");
note("09503700", 995, 1517.5, 72, "stn", numColor);
leader(733, 1497, 744, 1506);
note("Oak Creek near", 1043, 1430, 134, "note2");
note("Sedona\u2014", 1030, 1453, 90, "note2");
note("09504420", 1122, 1453, 68, "stn", numColor);
leader(1080.4, 1412, 1064.2, 1373);
</script>
